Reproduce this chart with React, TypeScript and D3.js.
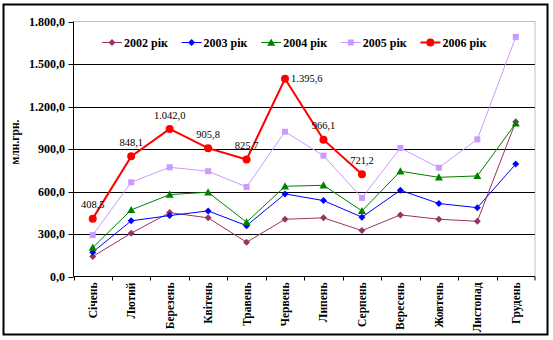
import React from "react";
import * as d3 from "d3";

const months = ["Січень","Лютий","Березень","Квітень","Травень","Червень","Липень","Серпень","Вересень","Жовтень","Листопад","Грудень"];
const s2002 = [141, 306, 451, 414, 242, 404, 414, 324, 435, 404, 390, 1092];
const s2003 = [172, 393, 430, 463, 359, 583, 536, 419, 609, 515, 486, 794];
const s2004 = [204, 470, 578, 595, 383, 637, 644, 463, 743, 700, 710, 1081];
const s2005 = [292, 665, 771, 743, 632, 1022, 853, 555, 907, 768, 968, 1691];
const s2006 = [408.5, 848.1, 1042.0, 905.8, 825.7, 1395.6, 966.1, 721.2];
const seriesNames = ["2002 рік","2003 рік","2004 рік","2005 рік","2006 рік"];
const yTicks = [0, 300, 600, 900, 1200, 1500, 1800];
const yTitle = "млн.грн.";

const colors = ["#993366", "#0000FF", "#008000", "#CC99FF", "#FF0000"];
const markerTypes = ["diamond", "diamond", "triangle", "square", "circle"];

const W = 553, H = 340;
const plot = { left: 73.5, right: 535, top: 21.5, bottom: 276.5 };
const serif = '"Liberation Serif", "Times New Roman", serif';

const fmt = (v: number) => {
  const s = v.toFixed(1).replace(".", ",");
  const [i, d] = s.split(",");
  return i.replace(/\B(?=(\d{3})+(?!\d))/g, ".") + "," + d;
};

function Marker({ type, x, y, color }: { type: string; x: number; y: number; color: string }) {
  if (type === "diamond") {
    const r = 3.5;
    return <path d={`M${x},${y - r}L${x + r},${y}L${x},${y + r}L${x - r},${y}Z`} fill={color} />;
  }
  if (type === "triangle") {
    const r = 4;
    return <path d={`M${x},${y - r}L${x + r},${y + r * 0.8}L${x - r},${y + r * 0.8}Z`} fill={color} />;
  }
  if (type === "square") {
    return <rect x={x - 3} y={y - 3} width={6} height={6} fill={color} />;
  }
  return <circle cx={x} cy={y} r={4} fill={color} />;
}

export default function App() {
  const x = d3.scaleBand<string>().domain(months).range([plot.left, plot.right]);
  const y = d3.scaleLinear().domain([0, 1800]).range([plot.bottom, plot.top]);
  const cx = (m: string) => (x(m) as number) + x.bandwidth() / 2;
  const all = [s2002, s2003, s2004, s2005, s2006];
  const line = d3.line<number>().x((_, i) => cx(months[i])).y((d) => y(d));
  const maxIdx = s2006.indexOf(d3.max(s2006) as number);
  const bold = { fontFamily: serif, fontWeight: "bold" as const };

  return (
    <svg width={W} height={H} style={{ position: "absolute", left: 0, top: 0, fontFamily: serif }}>
      <rect x={0} y={0} width={W} height={H} fill="#fff" />
      <rect x={3.5} y={4.5} width={544} height={330} fill="none" stroke="#000" strokeWidth={2} />
      {yTicks.filter((t) => t > 0 && t < 1800).map((t) => (
        <line key={t} x1={plot.left} x2={plot.right} y1={Math.round(y(t)) + 0.5} y2={Math.round(y(t)) + 0.5} stroke="#000" strokeWidth={1} />
      ))}
      <line x1={plot.left} x2={plot.right} y1={plot.top} y2={plot.top} stroke="#808080" strokeDasharray="1,1" />
      <line x1={plot.right} x2={plot.right} y1={plot.top} y2={plot.bottom} stroke="#808080" strokeDasharray="1,1" />
      <line x1={plot.left} x2={plot.left} y1={plot.top} y2={plot.bottom} stroke="#000" />
      <line x1={plot.left} x2={plot.right} y1={plot.bottom} y2={plot.bottom} stroke="#000" />
      {yTicks.map((t) => (
        <g key={t}>
          <line x1={plot.left - 5} x2={plot.left} y1={Math.round(y(t)) + 0.5} y2={Math.round(y(t)) + 0.5} stroke="#000" />
          <text x={65} y={y(t)} dy="0.35em" textAnchor="end" style={{ ...bold, fontSize: 12 }}>{fmt(t)}</text>
        </g>
      ))}
      {months.map((m, i) => (
        <line key={"t" + i} x1={Math.round(x(m) as number) + 0.5} x2={Math.round(x(m) as number) + 0.5} y1={plot.bottom} y2={plot.bottom + 4} stroke="#000" />
      ))}
      <line x1={plot.right} x2={plot.right} y1={plot.bottom} y2={plot.bottom + 4} stroke="#000" />
      {months.map((m) => (
        <text key={m} transform={`translate(${cx(m) + 4},${plot.bottom + 6}) rotate(-90)`} textAnchor="end" style={{ ...bold, fontSize: 11.5 }}>{m}</text>
      ))}
      <text transform={`translate(19,142) rotate(-90)`} textAnchor="middle" style={{ ...bold, fontSize: 11.5 }}>{yTitle}</text>
      {all.map((s, si) => (
        <g key={si}>
          <path d={line(s) as string} fill="none" stroke={colors[si]} strokeWidth={si === 4 ? 2 : 1} />
          {s.map((v, i) => (
            <Marker key={i} type={markerTypes[si]} x={cx(months[i])} y={y(v)} color={colors[si]} />
          ))}
        </g>
      ))}
      {s2006.map((v, i) => {
        const px = cx(months[i]);
        const py = y(v);
        const right = i === maxIdx;
        return (
          <text key={i} x={right ? px + 6 : px} y={right ? py : py - 14} dy="0.35em" textAnchor={right ? "start" : "middle"} style={{ fontFamily: serif, fontSize: 10.5 }}>{fmt(v)}</text>
        );
      })}
      {seriesNames.map((n, i) => {
        const lx = 102 + i * 79.6;
        const ly = 42.5;
        return (
          <g key={n}>
            <line x1={lx} x2={lx + 20} y1={ly} y2={ly} stroke={colors[i]} strokeWidth={i === 4 ? 2 : 1} />
            <Marker type={markerTypes[i]} x={lx + 10} y={ly} color={colors[i]} />
            <text x={lx + 22} y={ly} dy="0.35em" style={{ ...bold, fontSize: 12 }}>{n}</text>
          </g>
        );
      })}
    </svg>
  );
}
